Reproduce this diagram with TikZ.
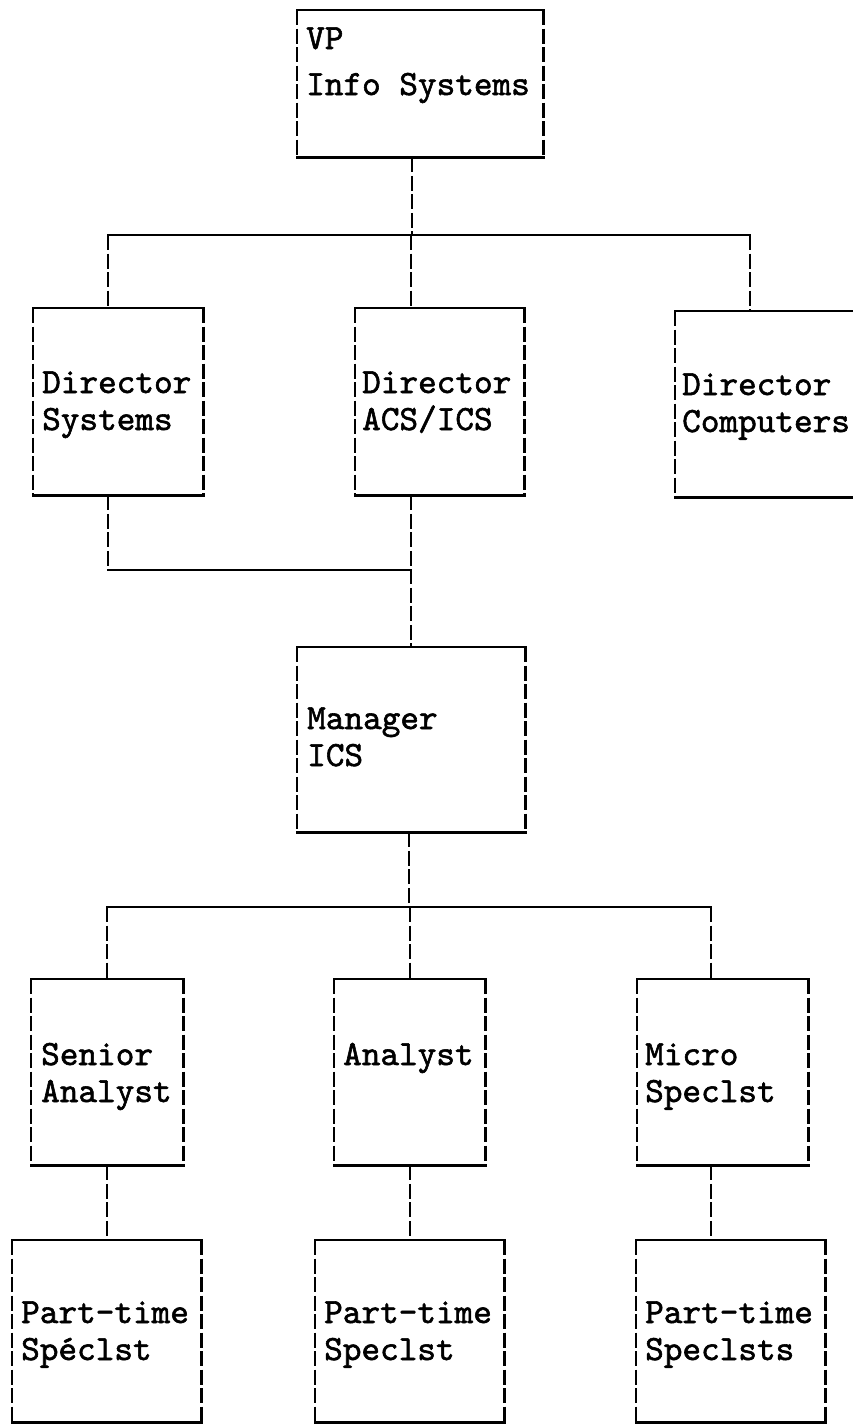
\documentclass[tikz,border=0pt]{standalone}
\usepackage{fontspec}
\newfontfamily\orgfont{lmmono10-regular.otf}[FakeBold=1.6]
\begin{document}
\begin{tikzpicture}[x=1pt,y=-1pt,
  hline/.style={line width=2.4pt,line cap=rect},
  vline/.style={line width=2.4pt,dash pattern=on 15pt off 3.5pt},
  orgbox/.style={draw=none,rectangle,inner sep=0pt,anchor=north west},
  lbl/.style={anchor=base west,inner sep=0pt,font=\orgfont\fontsize{35.5}{37}\selectfont}]
\newcommand\edges[1]{%
  \draw[hline] (#1.north west) -- (#1.north east) (#1.south west) -- (#1.south east);
  \draw[vline] (#1.north west) -- (#1.south west) (#1.north east) -- (#1.south east);}
\useasboundingbox (0,0) rectangle (853,1425);
\clip (0,0) rectangle (853,1425);
% boxes
\node[orgbox,minimum width=246pt,minimum height=147pt] (vp) at (297,10) {};
\node[orgbox,minimum width=170pt,minimum height=187pt] (sys) at (33,308) {};
\node[orgbox,minimum width=169pt,minimum height=187pt] (acs) at (355,308) {};
\node[orgbox,minimum width=210pt,minimum height=186pt] (comp) at (675,311) {};
\node[orgbox,minimum width=228pt,minimum height=185pt] (mgr) at (297,647) {};
\node[orgbox,minimum width=152pt,minimum height=186pt] (sen) at (31,979) {};
\node[orgbox,minimum width=151pt,minimum height=186pt] (ana) at (334,979) {};
\node[orgbox,minimum width=171pt,minimum height=186pt] (mic) at (637,979) {};
\node[orgbox,minimum width=189pt,minimum height=182pt] (pt1) at (12,1240) {};
\node[orgbox,minimum width=189pt,minimum height=182pt] (pt2) at (315,1240) {};
\node[orgbox,minimum width=189pt,minimum height=182pt] (pt3) at (636,1240) {};
\foreach \b in {vp,sys,acs,comp,mgr,sen,ana,mic,pt1,pt2,pt3}{\edges{\b}}
% labels
\node[lbl] (vpa) at (306,49) {VP};
\node[lbl] (vpb) at (306,95) {Info Systems};
\node[lbl] (sysa) at (42,393) {Director};
\node[lbl] (sysb) at (42,430) {Systems};
\node[lbl] (acsa) at (362,393) {Director};
\node[lbl] (acsb) at (362,430) {ACS/ICS};
\node[lbl] (compa) at (682,395) {Director};
\node[lbl] (compb) at (682,432) {Computers};
\node[lbl] (mgra) at (307,729) {Manager};
\node[lbl] (mgrb) at (307,766) {ICS};
\node[lbl] (sena) at (41,1065) {Senior};
\node[lbl] (senb) at (41,1102) {Analyst};
\node[lbl] (anaa) at (343,1065) {Analyst};
\node[lbl] (mica) at (645,1065) {Micro};
\node[lbl] (micb) at (645,1102) {Speclst};
\node[lbl] (pt1a) at (21,1323) {Part-time};
\node[lbl] (pt1b) at (21,1360) {Spéclst};
\node[lbl] (pt2a) at (324,1323) {Part-time};
\node[lbl] (pt2b) at (324,1360) {Speclst};
\node[lbl] (pt3a) at (645,1323) {Part-time};
\node[lbl] (pt3b) at (645,1360) {Speclsts};
% junction coordinates
\coordinate (j1) at (412,235);
\coordinate (j1s) at (108,235);
\coordinate (j1a) at (411,235);
\coordinate (j1c) at (750,235);
\coordinate (j2s) at (108,570);
\coordinate (j2a) at (411,570);
\coordinate (j3) at (409,907);
\coordinate (j3s) at (107,907);
\coordinate (j3a) at (410,907);
\coordinate (j3m) at (711,907);
% connectors level 1
\draw[vline] (vp.south -| j1) -- (j1);
\draw[hline] (j1s) -- (j1c);
\draw[vline] (j1s) -- (j1s |- sys.north);
\draw[vline] (j1a) -- (j1a |- acs.north);
\draw[vline] (j1c) -- (j1c |- comp.north);
% connectors level 2
\draw[vline] (j2s |- sys.south) -- (j2s);
\draw[hline] (j2s) -- (j2a);
\draw[vline] (j2a |- acs.south) -- (j2a |- mgr.north);
% connectors level 3
\draw[vline] (mgr.south -| j3) -- (j3);
\draw[hline] (j3s) -- (j3m);
\draw[vline] (j3s) -- (j3s |- sen.north);
\draw[vline] (j3a) -- (j3a |- ana.north);
\draw[vline] (j3m) -- (j3m |- mic.north);
% connectors level 4
\draw[vline] (j3s |- sen.south) -- (j3s |- pt1.north);
\draw[vline] (j3a |- ana.south) -- (j3a |- pt2.north);
\draw[vline] (j3m |- mic.south) -- (j3m |- pt3.north);
\end{tikzpicture}
\end{document}
